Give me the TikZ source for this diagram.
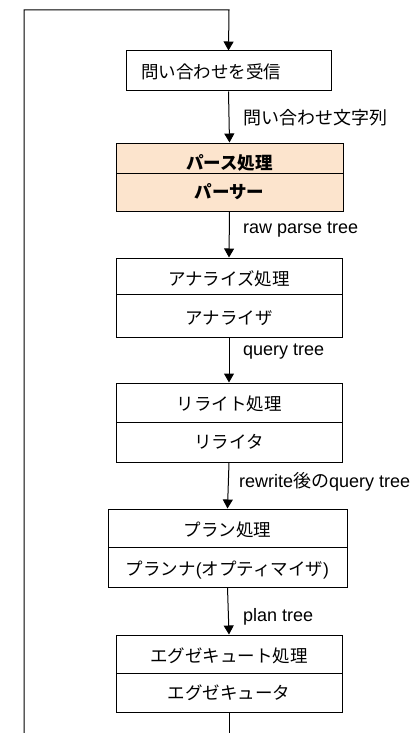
\documentclass[tikz,border=0pt]{standalone}
\usepackage{fontspec}
\setmainfont{Liberation Sans}
\newfontfamily\jp{Noto Sans CJK JP}
\usetikzlibrary{arrows.meta}
\definecolor{peach}{HTML}{FCE4CD}
\newcommand{\lowr}[2]{\raisebox{-#1pt}[\height][\depth]{#2}}
\tikzset{
  sec/.style={draw=black, line width=1pt, rectangle, inner sep=0pt, anchor=center, font=\jp\fontsize{17.5}{20}\selectfont},
  flow/.style={draw=black, line width=1pt, -{Triangle[length=9pt,width=10pt]}},
  plain/.style={draw=black, line width=1pt},
  elab/.style={anchor=west, inner sep=0pt, font=\fontsize{18}{20}\selectfont}
}
\begin{document}
\begin{tikzpicture}[x=1pt,y=-1pt]
\useasboundingbox (0,0) rectangle (414,733);
% box 1
\node[sec, minimum width=205, minimum height=40] (b1) at (228.5,71) {};
\node[anchor=west, inner sep=0pt, font=\jp\fontsize{17.5}{20}\selectfont] (b1t) at (141,72) {問い合わせを受信};
% box 2 (parser)
\node[sec, fill=peach, minimum width=227, minimum height=30, font=\jp\bfseries\fontsize{17.5}{20}\selectfont] (b2a) at (229.5,158) {\lowr{5}{パース処理}};
\node[sec, fill=peach, minimum width=227, minimum height=38, font=\jp\bfseries\fontsize{17.5}{20}\selectfont] (b2b) at (229.5,192) {パーサー};
% box 3
\node[sec, minimum width=226, minimum height=36] (b3a) at (229,276) {\lowr{3}{アナライズ処理}};
\node[sec, minimum width=226, minimum height=43] (b3b) at (229,315.5) {\lowr{2.5}{アナライザ}};
% box 4
\node[sec, minimum width=226, minimum height=39] (b4a) at (229,402.5) {\lowr{1.5}{リライト処理}};
\node[sec, minimum width=226, minimum height=40] (b4b) at (229,442) {リライタ};
% box 5
\node[sec, minimum width=239, minimum height=38] (b5a) at (227.5,528) {\lowr{2}{プラン処理}};
\node[sec, minimum width=239, minimum height=40] (b5b) at (227.5,567) {\lowr{3}{プランナ{\rmfamily(}オプティマイザ{\rmfamily)}}};
% box 6
\node[sec, minimum width=226, minimum height=38] (b6a) at (229,654) {\lowr{2}{エグゼキュート処理}};
\node[sec, minimum width=226, minimum height=39] (b6b) at (229,692.5) {エグゼキュータ};
% edge labels
\node[elab] (l1) at (243,118) {\jp 問い合わせ文字列};
\node[elab] (l2) at (243,230) {raw parse tree};
\node[elab] (l3) at (243,352) {query tree};
\node[elab] (l4) at (239,482) {rewrite{\jp 後の}query tree};
\node[elab] (l5) at (243,617) {plan tree};
% connectors
\draw[flow] (b1.south) -- (b2a.north);
\draw[flow] (b2b.south) -- (b3a.north);
\draw[flow] (b3b.south) -- (b4a.north);
\draw[flow] (b4b.south) -- (b5a.north);
\draw[flow] (b5b.south) -- (b6a.north);
% loop
\coordinate (outend) at (229,733);
\coordinate (loopstart) at (24,733);
\draw[plain] (b6b.south) -- (outend);
\draw[flow] (loopstart) -- (24,10) -- (229,10) -- (b1.north);
\end{tikzpicture}
\end{document}
